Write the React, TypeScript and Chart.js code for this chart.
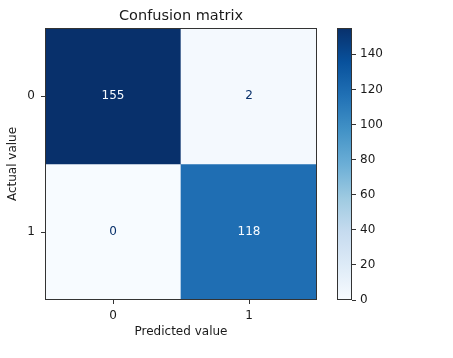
import React, { useEffect, useRef } from 'react';
import { Chart, registerables } from 'chart.js';

Chart.register(...registerables);

// ---- data ----
const predictedLabels = ['0', '1'];
const actualLabels = ['0', '1'];
const row0 = [155, 2];
const row1 = [0, 118];
const matrixRows = [row0, row1];
const colorbarTicks = [0, 20, 40, 60, 80, 100, 120, 140];
const vmin = 0;
const vmax = 155;

// matplotlib "Blues" colormap stops
const BLUES = ['#f7fbff', '#deebf7', '#c6dbef', '#9ecae1', '#6baed6', '#4292c6', '#2171b5', '#08519c', '#08306b'];

function hexToRgb(h: string) {
  return [parseInt(h.slice(1, 3), 16), parseInt(h.slice(3, 5), 16), parseInt(h.slice(5, 7), 16)];
}
function blues(t: number) {
  const tt = Math.max(0, Math.min(1, t)) * (BLUES.length - 1);
  const i = Math.min(Math.floor(tt), BLUES.length - 2);
  const f = tt - i;
  const a = hexToRgb(BLUES[i]);
  const b = hexToRgb(BLUES[i + 1]);
  const c = a.map((v, k) => Math.round(v + (b[k] - v) * f));
  return `rgb(${c[0]},${c[1]},${c[2]})`;
}

const FONT = "'DejaVu Sans', sans-serif";
const TEXT = '#1a1a1a';
const FRAME = '#333333';
const FS = 12;

const framePlugin = {
  id: 'frame',
  afterDatasetsDraw(chart: any) {
    const { ctx, chartArea: a } = chart;
    ctx.save();
    ctx.strokeStyle = FRAME;
    ctx.lineWidth = 1;
    ctx.strokeRect(Math.round(a.left) + 0.5, Math.round(a.top) + 0.5, Math.round(a.right - a.left) - 1, Math.round(a.bottom - a.top) - 1);
    ctx.restore();
  },
};

const cellTextPlugin = {
  id: 'cellText',
  afterDatasetsDraw(chart: any) {
    const { ctx } = chart;
    const thresh = (vmax + vmin) / 2;
    ctx.save();
    ctx.font = `${FS}px ${FONT}`;
    ctx.textAlign = 'center';
    ctx.textBaseline = 'middle';
    matrixRows.forEach((row, i) => {
      const meta = chart.getDatasetMeta(i);
      row.forEach((v, j) => {
        const el = meta.data[j];
        const { x, y, base } = el.getProps(['x', 'y', 'base'], true);
        ctx.fillStyle = v > thresh ? BLUES[0] : BLUES[BLUES.length - 1];
        ctx.fillText(String(v), x, (y + base) / 2);
      });
    });
    ctx.restore();
  },
};

export default function App() {
  const mainRef = useRef<HTMLCanvasElement>(null);
  const barRef = useRef<HTMLCanvasElement>(null);

  useEffect(() => {
    Chart.defaults.font.family = FONT;
    Chart.defaults.font.size = FS;
    Chart.defaults.color = TEXT;

    const main = new Chart(mainRef.current as HTMLCanvasElement, {
      type: 'bar',
      data: {
        labels: predictedLabels,
        datasets: matrixRows.map((row, i) => ({
          label: actualLabels[i],
          data: row.map(() => [i - 0.5, i + 0.5]),
          backgroundColor: row.map((v) => blues((v - vmin) / (vmax - vmin))),
          borderWidth: 0,
          barPercentage: 1,
          categoryPercentage: 1,
          grouped: false,
        })),
      } as any,
      options: {
        responsive: false,
        animation: false,
        layout: { padding: { left: 0, right: 136, top: 0, bottom: 0 } },
        plugins: {
          legend: { display: false },
          tooltip: { enabled: false },
          title: {
            display: true,
            fullSize: false,
            text: 'Confusion matrix',
            color: TEXT,
            font: { size: 14.5, weight: 'normal', family: FONT },
            padding: { top: 7.3, bottom: 3.3 },
          },
        },
        scales: {
          x: {
            type: 'category',
            offset: true,
            grid: { offset: false, drawOnChartArea: false, drawTicks: true, tickLength: 4, color: FRAME },
            border: { display: false },
            ticks: { padding: 4.5, maxRotation: 0, color: TEXT },
            title: { display: true, text: 'Predicted value', color: TEXT, padding: { top: 0, bottom: 19 } },
            afterFit: (s: any) => { s.height = 58; },
          },
          y: {
            type: 'linear',
            reverse: true,
            min: -0.5,
            max: 1.5,
            afterBuildTicks: (s: any) => { s.ticks = actualLabels.map((_, i) => ({ value: i })); },
            ticks: { padding: 6, color: TEXT, callback: (_v: any, idx: number) => actualLabels[idx] },
            grid: { drawOnChartArea: false, drawTicks: true, tickLength: 4, color: FRAME },
            border: { display: false },
            title: { display: true, text: 'Actual value', color: TEXT, padding: { top: 5.3, bottom: 0 } },
            afterFit: (s: any) => { s.width = 45; },
          },
        },
      } as any,
      plugins: [cellTextPlugin, framePlugin],
    });

    const bar = new Chart(barRef.current as HTMLCanvasElement, {
      type: 'bar',
      data: {
        labels: [''],
        datasets: [
          {
            data: [[vmin, vmax]],
            backgroundColor: (c: any) => {
              const ca = c.chart.chartArea;
              if (!ca) return BLUES[0];
              const g = c.chart.ctx.createLinearGradient(0, ca.bottom, 0, ca.top);
              BLUES.forEach((col, k) => g.addColorStop(k / (BLUES.length - 1), col));
              return g;
            },
            borderWidth: 0,
            barPercentage: 1,
            categoryPercentage: 1,
          },
        ],
      } as any,
      options: {
        responsive: false,
        animation: false,
        layout: { padding: { left: 7, right: 0, top: 28, bottom: 58 } },
        plugins: { legend: { display: false }, tooltip: { enabled: false } },
        scales: {
          x: { display: false },
          y: {
            position: 'right',
            min: vmin,
            max: vmax,
            afterBuildTicks: (s: any) => { s.ticks = colorbarTicks.map((v) => ({ value: v })); },
            ticks: { padding: 4, color: TEXT },
            grid: { drawOnChartArea: false, drawTicks: true, tickLength: 4, color: FRAME },
            border: { display: false },
            afterFit: (s: any) => { s.width = 101; },
          },
        },
      } as any,
      plugins: [framePlugin],
    });

    return () => {
      main.destroy();
      bar.destroy();
    };
  }, []);

  return (
    <div style={{ position: 'absolute', left: 0, top: 0, width: 453, height: 358, background: '#fff' }}>
      <canvas ref={mainRef} width={453} height={358} style={{ position: 'absolute', left: 0, top: 0, width: 453, height: 358 }} />
      <canvas ref={barRef} width={123} height={358} style={{ position: 'absolute', left: 330, top: 0, width: 123, height: 358 }} />
    </div>
  );
}
